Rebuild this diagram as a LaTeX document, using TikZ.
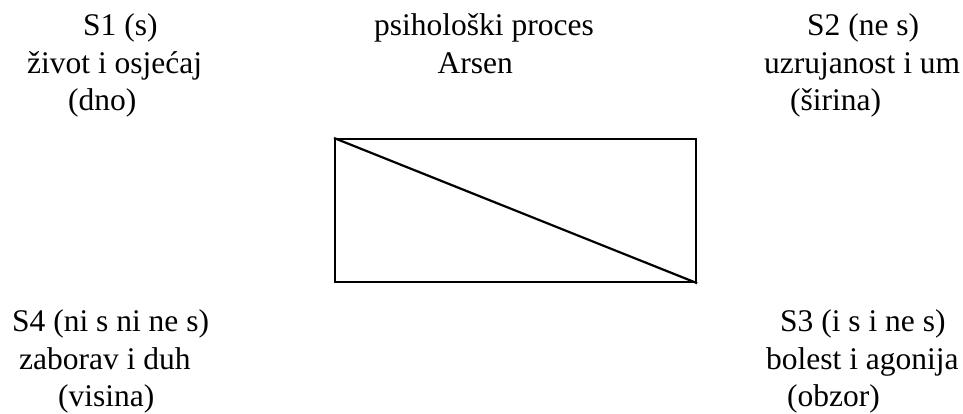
\documentclass[tikz,border=0pt]{standalone}
\usepackage{fontspec}
\setmainfont{Liberation Serif}
\begin{document}
\begin{tikzpicture}[x=1pt,y=-1pt,
  lbl/.style={anchor=base west,inner sep=0pt,font=\fontsize{31.5}{37.5}\selectfont},
  box/.style={draw,line width=2.2pt,minimum width=361pt,minimum height=143pt,inner sep=0pt,anchor=north west}]
\useasboundingbox (0,0) rectangle (963,413);
% top left
\node[lbl] (s1a) at (83,35.5) {S1 (s)};
\node[lbl] (s1b) at (27,73) {život i osjećaj};
\node[lbl] (s1c) at (68,110.5) {(dno)};
% top middle
\node[lbl] (ma) at (374,35.5) {psihološki proces};
\node[lbl] (mb) at (437.5,73) {Arsen};
% top right
\node[lbl] (s2a) at (807,35.5) {S2 (ne s)};
\node[lbl] (s2b) at (764,73) {uzrujanost i um};
\node[lbl] (s2c) at (790,110.5) {(širina)};
% bottom left
\node[lbl] (s4a) at (12,331.5) {S4 (ni s ni ne s)};
\node[lbl] (s4b) at (19,369) {zaborav i duh};
\node[lbl] (s4c) at (58,406.5) {(visina)};
% bottom right
\node[lbl] (s3a) at (780,331.5) {S3 (i s i ne s)};
\node[lbl] (s3b) at (766,369) {bolest i agonija};
\node[lbl] (s3c) at (787,406.5) {(obzor)};
% rectangle with diagonal
\node[box] (rect) at (334,138) {};
\draw[line width=2.2pt] (rect.north west) -- (rect.south east);
\end{tikzpicture}
\end{document}
